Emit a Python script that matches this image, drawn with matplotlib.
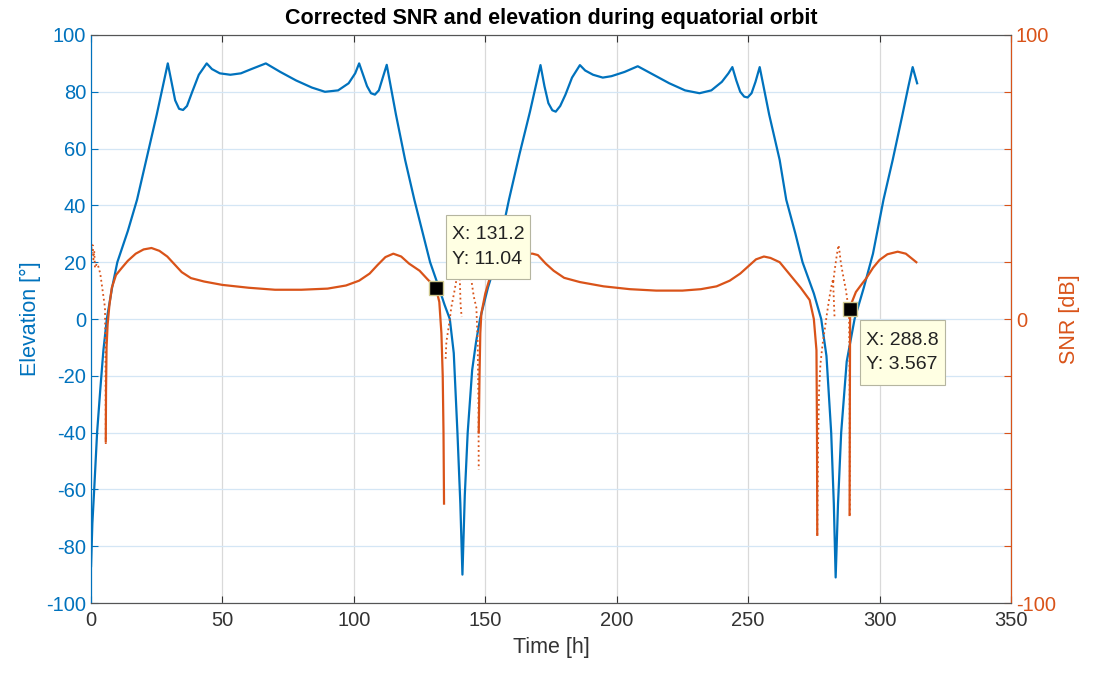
import numpy as np
import matplotlib
matplotlib.use("Agg")
import matplotlib.pyplot as plt

BLUE = "#0072BD"
ORANGE = "#D95319"

# elevation [deg] vs time [h]
elev_t = [0, 0.5, 1.2, 2.3, 3.5, 4.7, 6, 8, 10, 14, 17.5, 21, 25, 29.2,
          30.5, 32, 33.5, 35, 36.5, 38.5, 41, 44, 46, 49, 53, 57, 61, 66.5,
          72, 78, 84, 89, 94, 98, 100.5, 102, 103.5, 105, 106.5, 108, 109.5,
          111, 112.5, 116, 119.5, 123, 126, 129, 132, 134.5, 136.5, 138,
          139.4, 140.5, 141.3, 142.2, 143.3, 145, 146.5, 148, 151, 154, 159,
          163, 167, 171, 172.5, 174, 175.5, 176.8, 178.5, 180.5, 183, 186,
          188, 191, 194.7, 198, 203, 208, 214, 220, 226, 231.5, 236, 240,
          242.5, 244, 245.5, 247, 248.5, 249.8, 251.3, 252.8, 254.4, 258, 262,
          264.5, 268, 270.7, 275, 277.8, 279.8, 281.6, 282.6, 283.3, 284.2,
          285.4, 287.5, 290.5, 294, 297.5, 301.5, 305, 308.5, 311, 312.6,
          314.3]
elev_v = [-87, -72, -60, -40, -25, -11, 0, 11, 20, 31, 42, 56, 72, 90,
          84, 77, 74, 73.6, 75, 80, 86, 90, 88, 86.5, 86, 86.5, 88, 90,
          87, 84, 81.5, 80, 80.5, 83, 86.5, 90, 86, 82, 79.5, 79, 80.5,
          85, 89.5, 72, 56, 42, 31, 20, 12, 5, 0, -12,
          -40, -65, -90, -62, -40, -18, -8, 0, 11, 20, 42,
          58, 73, 89.4, 82, 76, 73.5, 73, 75, 79, 85, 89.4,
          87.5, 86, 85, 85.5, 87, 89, 86, 83, 80.5, 79.5, 80.5, 83.5,
          86.5, 88.7, 84, 80, 78.3, 78, 79.5, 83.5, 88.7, 72, 56,
          42, 30, 20, 9, 0, -13, -40, -65, -91, -65,
          -40, -15, 0, 11, 23, 42, 56, 71, 82, 88.7,
          83]

# corrected SNR [dB], three visibility passes
snr1_t = [5.6, 5.7, 5.9, 6.3, 7, 7.9, 9.5, 11.7, 14, 17, 20, 23, 26, 29,
          31.5, 34.5, 38, 43, 50, 60, 70, 80, 90, 97, 102, 106, 109, 112,
          115, 118, 121, 125, 128, 131.2, 132.5, 133.3, 133.8, 134.1, 134.3]
snr1_v = [-43, -25, -10, -2, 5, 11, 15.5, 18, 20.5, 23, 24.5, 25, 24, 22,
          19.5, 16.5, 14.4, 13.2, 12, 11, 10.3, 10.3, 10.7, 11.8, 13.5, 16,
          19, 21.8, 23, 22, 19.5, 17, 14, 11.04, 6, -5, -20, -40, -65]
snr2_t = [147.5, 147.8, 148.1, 148.5, 150, 151.7, 154, 157, 161, 165, 168,
          170, 173, 176, 180, 186, 195, 205, 215, 225, 232, 238, 243, 247,
          250, 253, 256, 258.5, 262, 266, 270, 273.4, 275, 276, 276.2, 276.3]
snr2_v = [-40, -20, -5, 2, 9, 14.4, 18, 20.5, 22, 23, 23, 22.5, 19.5, 17,
          14.5, 13, 11.5, 10.5, 10, 10, 10.5, 11.5, 13.5, 16, 18.5, 21, 22,
          21.5, 20, 15.5, 11, 6.7, 0, -11, -40, -76]
snr3_t = [288.6, 288.7, 288.8, 289.5, 291, 293, 295, 297.5, 300, 303,
          306.9, 310, 314]
snr3_v = [-69, -30, 3.567, 6, 9.5, 12, 14.4, 18, 20.8, 22.8, 23.7, 23, 20]

# uncorrected SNR around horizon crossings (dotted)
raw_t = [0, 0.3, 0.6, 0.9, 1.2, 1.5, 2.2, 2.8, 3.5, 4.0, 4.7, 5.3, 5.5, 5.6,
         np.nan,
         134.9, 135.2, 136.2, 137.1, 138.2, 139.0, 139.6, 140.0, 140.3,
         140.6, 141.0, np.nan,
         143.6, 144.2, 144.7, 145.6, 146.6, 147.1, 147.4, 147.5, np.nan,
         276.3, 276.6, 277.0, 277.5, 278.3, 279.1, 280.0, 281.0, 281.8,
         282.3, 282.6, 282.9, np.nan,
         282.4, 282.9, 283.5, 284.0, 284.4, 284.8, 285.3, 286.2, 287.2,
         288.0, 288.4, 288.6, 288.7]
raw_v = [27, 23, 26, 21, 24, 18, 19.5, 18.4, 16, 12.7, 8, 4, -15, -44,
         np.nan,
         -14, -8, -2, 4.3, 9.5, 13.7, 18, 21, 14, 5, 0.7, np.nan,
         21, 18, 13.7, 8, 4, -8, -30, -53, np.nan,
         -76, -45, -25, -16, -9, -4, 2, 8, 12, 14, 7, 0, np.nan,
         13, 17, 21, 24, 26, 23.5, 19.6, 15, 10.2, 5, 2, -20, -69]

tip_x = [131.2, 288.8]
tip_y = [11.04, 3.567]
tip_offsets = [(16, 20), (16, -23)]
tip_align = ["bottom", "top"]

plt.rcParams["font.family"] = ["Liberation Sans", "DejaVu Sans"]
plt.rcParams["axes.unicode_minus"] = False

fig = plt.figure(figsize=(11.09, 6.73), dpi=100)
ax = fig.add_axes([0.0821, 0.104, 0.8295, 0.844])
ax2 = ax.twinx()

ax.plot(elev_t, elev_v, color=BLUE, lw=1.6, zorder=3)
ax.set_xlim(0, 350)
ax.set_ylim(-100, 100)
ax.set_xticks(np.arange(0, 351, 50))
ax.set_yticks(np.arange(-100, 101, 20))
ax.grid(axis="x", color="#d9d9d9", lw=0.9)
ax.grid(axis="y", color="#d4e6f5", lw=0.9)
ax.set_axisbelow(True)

for t, v in [(snr1_t, snr1_v), (snr2_t, snr2_v), (snr3_t, snr3_v)]:
    ax2.plot(t, v, color=ORANGE, lw=1.6)
ax2.plot(raw_t, raw_v, color=ORANGE, lw=1.3, ls=":")
ax2.set_ylim(-100, 100)
ax2.set_yticks(np.arange(-100, 101, 20))
ax2.set_yticklabels([str(v) if v % 100 == 0 else "" for v in range(-100, 101, 20)])

for x, y, off, va in zip(tip_x, tip_y, tip_offsets, tip_align):
    ax2.plot(x, y, marker="s", ms=10, color="black", mec="#cfc98f", mew=1, zorder=6)
    ax2.annotate(f"X: {x:g}\nY: {y:g}", xy=(x, y), xytext=off,
                 textcoords="offset pixels", ha="left", va=va, fontsize=14,
                 color="#222222", linespacing=1.55, zorder=7,
                 bbox=dict(boxstyle="square,pad=0.3", fc="#ffffe3",
                           ec="#b5b5a0", lw=0.8, mutation_aspect=2.0))

ax.tick_params(axis="x", direction="in", top=True, length=5, labelsize=14.5,
               colors="#333333", pad=6)
ax.tick_params(axis="y", direction="in", length=5, labelsize=14.5,
               colors=BLUE)
ax2.tick_params(axis="y", direction="in", length=5, labelsize=14.5,
                colors=ORANGE)
ax.spines["left"].set_color(BLUE)
ax2.spines["left"].set_color(BLUE)
ax2.spines["right"].set_color(ORANGE)
for a in (ax, ax2):
    a.spines["top"].set_color("#555555")
    a.spines["bottom"].set_color("#555555")

ax.set_xlabel("Time [h]", fontsize=15.5, color="#333333", labelpad=5)
ax.set_ylabel("Elevation [°]", fontsize=15.5, color=BLUE, labelpad=4)
ax2.set_ylabel("SNR [dB]", fontsize=15.5, color=ORANGE, labelpad=2)
ax.set_title("Corrected SNR and elevation during equatorial orbit",
             fontsize=15.5, fontweight="bold", pad=8)

fig.savefig("out.png", dpi=100)
